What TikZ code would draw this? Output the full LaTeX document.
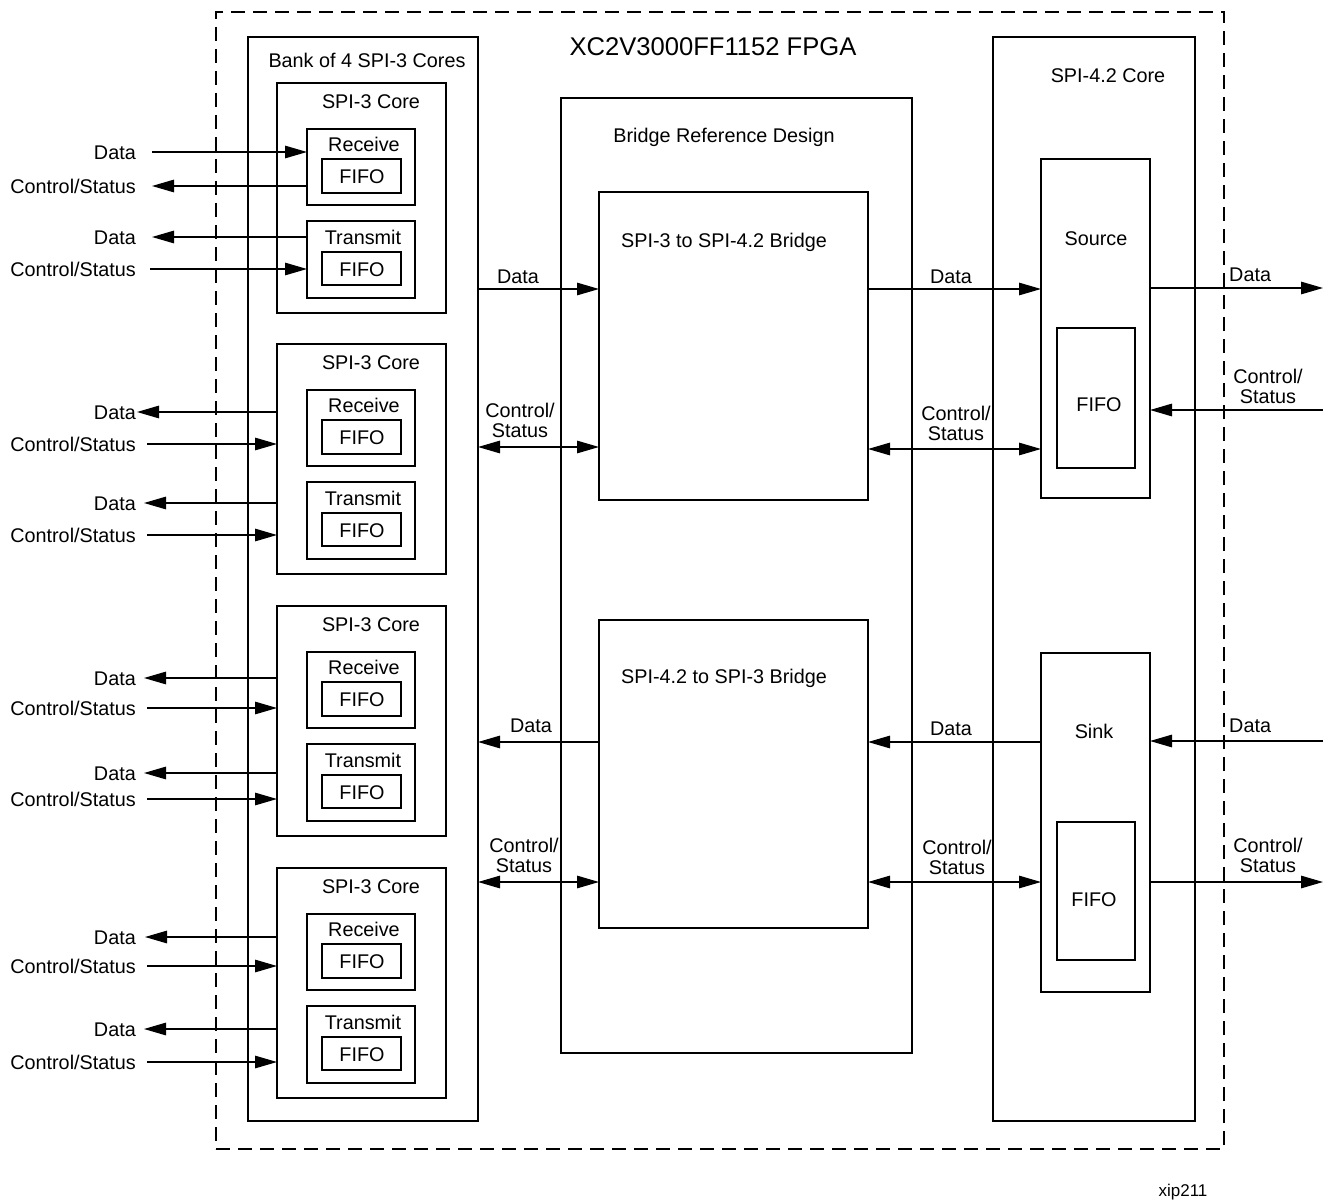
\documentclass[tikz,border=0pt]{standalone}
\usepackage{fontspec}
\setmainfont{Liberation Sans}
\usetikzlibrary{arrows.meta}
% rectangle node from two corners: style, name, x1, y1, x2, y2
\newcommand\rectnode[6]{%
  \node[#1,minimum width={((#5)-(#3))*1pt},minimum height={((#6)-(#4))*1pt}]
    (#2) at ({((#3)+(#5))/2},{((#4)+(#6))/2}) {};}
\begin{document}
\begin{tikzpicture}[x=1pt,y=-1pt,
  thinbox/.style={draw,line width=1.3pt,inner sep=0pt,outer sep=0pt},
  thickbox/.style={draw,line width=2.6pt,inner sep=0pt,outer sep=0pt},
  fifobox/.style={draw,line width=2pt,inner sep=0pt,outer sep=0pt},
  dashbox/.style={draw,line width=1.3pt,dash pattern=on 14pt off 8pt,inner sep=0pt,outer sep=0pt},
  txt/.style={font=\fontsize{19.8}{20}\selectfont,inner sep=0pt,text height=14.2pt,text depth=0pt},
  txttwo/.style={font=\fontsize{19.8}{20}\selectfont,inner sep=0pt,align=center},
  >={Triangle[length=22pt,width=12.5pt]},
  wire/.style={line width=1.3pt,->},
  biwire/.style={line width=1.3pt,<->},
]
\fill[white] (0,0) rectangle (1325,1201);
\useasboundingbox (0,0) rectangle (1325,1201);

% outer FPGA boundary
\rectnode{dashbox}{fpga}{216}{12}{1224}{1149}
\node[font=\fontsize{25.6}{28}\selectfont,inner sep=0pt,text height=18.3pt,text depth=0pt]
  (title) at (713,46) {XC2V3000FF1152 FPGA};

% bank of SPI-3 cores
\rectnode{thinbox}{bank}{248}{37}{478}{1121}
\node[txt] (banklbl) at (367,60) {Bank of 4 SPI-3 Cores};

\foreach \i/\T in {1/83,2/344,3/606,4/868}{
  \rectnode{thickbox}{core\i}{277}{\T}{446}{\T+230}
  \rectnode{thickbox}{rx\i}{307}{\T+46}{415}{\T+122}
  \rectnode{fifobox}{rxfifo\i}{322}{\T+76}{401}{\T+110}
  \rectnode{thickbox}{tx\i}{307}{\T+138}{415}{\T+215}
  \rectnode{fifobox}{txfifo\i}{322}{\T+169}{401}{\T+202}
  \node[txt] (corelbl\i) at (371,\T+18) {SPI-3 Core};
  \node[txt] (rxlbl\i) at (364,\T+61) {Receive};
  \node[txt] (rxflbl\i) at (362,\T+93) {FIFO};
  \node[txt] (txlbl\i) at (363,\T+154) {Transmit};
  \node[txt] (txflbl\i) at (362,\T+186) {FIFO};
}

% external ports of the first core
\node[txt,anchor=east] (da1) at (136,152) {Data};
\node[txt,anchor=east] (ca1) at (136,186) {Control/Status};
\node[txt,anchor=east] (db1) at (136,237) {Data};
\node[txt,anchor=east] (cb1) at (136,269) {Control/Status};
\coordinate (pa1) at (152,152);
\coordinate (pb1) at (152,186);
\coordinate (pc1) at (152,237);
\coordinate (pd1) at (150,269);
\draw[wire] (pa1) -- (rx1.west |- pa1);
\draw[wire] (rx1.west |- pb1) -- (pb1);
\draw[wire] (tx1.west |- pc1) -- (pc1);
\draw[wire] (pd1) -- (tx1.west |- pd1);

% external ports of the other cores
\foreach \i/\xa/\ya/\yb/\yc/\yd in {2/137/412/444/503/535,3/144/678/708/773/799,4/145/937/966/1029/1062}{
  \node[txt,anchor=east] (da\i) at (136,\ya) {Data};
  \node[txt,anchor=east] (ca\i) at (136,\yb) {Control/Status};
  \node[txt,anchor=east] (db\i) at (136,\yc) {Data};
  \node[txt,anchor=east] (cb\i) at (136,\yd) {Control/Status};
  \coordinate (pa\i) at (\xa,\ya);
  \coordinate (pb\i) at (147,\yb);
  \coordinate (pc\i) at (144,\yc);
  \coordinate (pd\i) at (147,\yd);
  \draw[wire] (core\i.west |- pa\i) -- (pa\i);
  \draw[wire] (pb\i) -- (core\i.west |- pb\i);
  \draw[wire] (core\i.west |- pc\i) -- (pc\i);
  \draw[wire] (pd\i) -- (core\i.west |- pd\i);
}

% bridge reference design
\rectnode{thinbox}{brd}{561}{98}{912}{1053}
\node[txt] (brdlbl) at (724,135) {Bridge Reference Design};
\rectnode{thickbox}{br1}{599}{192}{868}{500}
\node[txt] (br1lbl) at (724,240) {SPI-3 to SPI-4.2 Bridge};
\rectnode{thickbox}{br2}{599}{620}{868}{928}
\node[txt] (br2lbl) at (724,676) {SPI-4.2 to SPI-3 Bridge};

% SPI-4.2 core
\rectnode{thinbox}{spi4}{993}{37}{1195}{1121}
\node[txt] (spi4lbl) at (1108,75) {SPI-4.2 Core};
\rectnode{thickbox}{src}{1041}{159}{1150}{498}
\node[txt] (srclbl) at (1096,238) {Source};
\rectnode{fifobox}{srcfifo}{1057}{328}{1135}{468}
\node[txt] (srcflbl) at (1099,404) {FIFO};
\rectnode{thickbox}{snk}{1041}{653}{1150}{992}
\node[txt] (snklbl) at (1094,731) {Sink};
\rectnode{fifobox}{snkfifo}{1057}{822}{1135}{960}
\node[txt] (snkflbl) at (1094,899) {FIFO};

% bank <-> bridges
\draw[wire] (bank.east |- 0,289) -- (br1.west |- 0,289);
\draw[biwire] (bank.east |- 0,447) -- (br1.west |- 0,447);
\draw[wire] (br2.west |- 0,742) -- (bank.east |- 0,742);
\draw[biwire] (bank.east |- 0,882) -- (br2.west |- 0,882);
\node[txt] (l1) at (518,276) {Data};
\node[txttwo] (l2) at (520,420) {Control/\\Status};
\node[txt] (l3) at (531,725) {Data};
\node[txttwo] (l4) at (524,855) {Control/\\Status};

% bridges <-> SPI-4.2 core
\draw[wire] (br1.east |- 0,289) -- (src.west |- 0,289);
\draw[biwire] (br1.east |- 0,449) -- (src.west |- 0,449);
\draw[wire] (snk.west |- 0,742) -- (br2.east |- 0,742);
\draw[biwire] (br2.east |- 0,882) -- (snk.west |- 0,882);
\node[txt] (m1) at (951,276) {Data};
\node[txttwo] (m2) at (956,423) {Control/\\Status};
\node[txt] (m3) at (951,728) {Data};
\node[txttwo] (m4) at (957,857) {Control/\\Status};

% SPI-4.2 external ports
\coordinate (ro1) at (1323,288);
\coordinate (ri1) at (1323,410);
\coordinate (ri2) at (1323,741);
\coordinate (ro2) at (1323,882);
\draw[wire] (src.east |- ro1) -- (ro1);
\draw[wire] (ri1) -- (src.east |- ri1);
\draw[wire] (ri2) -- (snk.east |- ri2);
\draw[wire] (snk.east |- ro2) -- (ro2);
\node[txt,anchor=west] (r1) at (1229,274) {Data};
\node[txttwo] (r2) at (1268,386) {Control/\\Status};
\node[txt,anchor=west] (r3) at (1229,725) {Data};
\node[txttwo] (r4) at (1268,855) {Control/\\Status};

\node[font=\fontsize{17}{18}\selectfont,inner sep=0pt,text height=12.2pt,text depth=0pt]
  (fig) at (1183,1190) {xip211};
\end{tikzpicture}
\end{document}
